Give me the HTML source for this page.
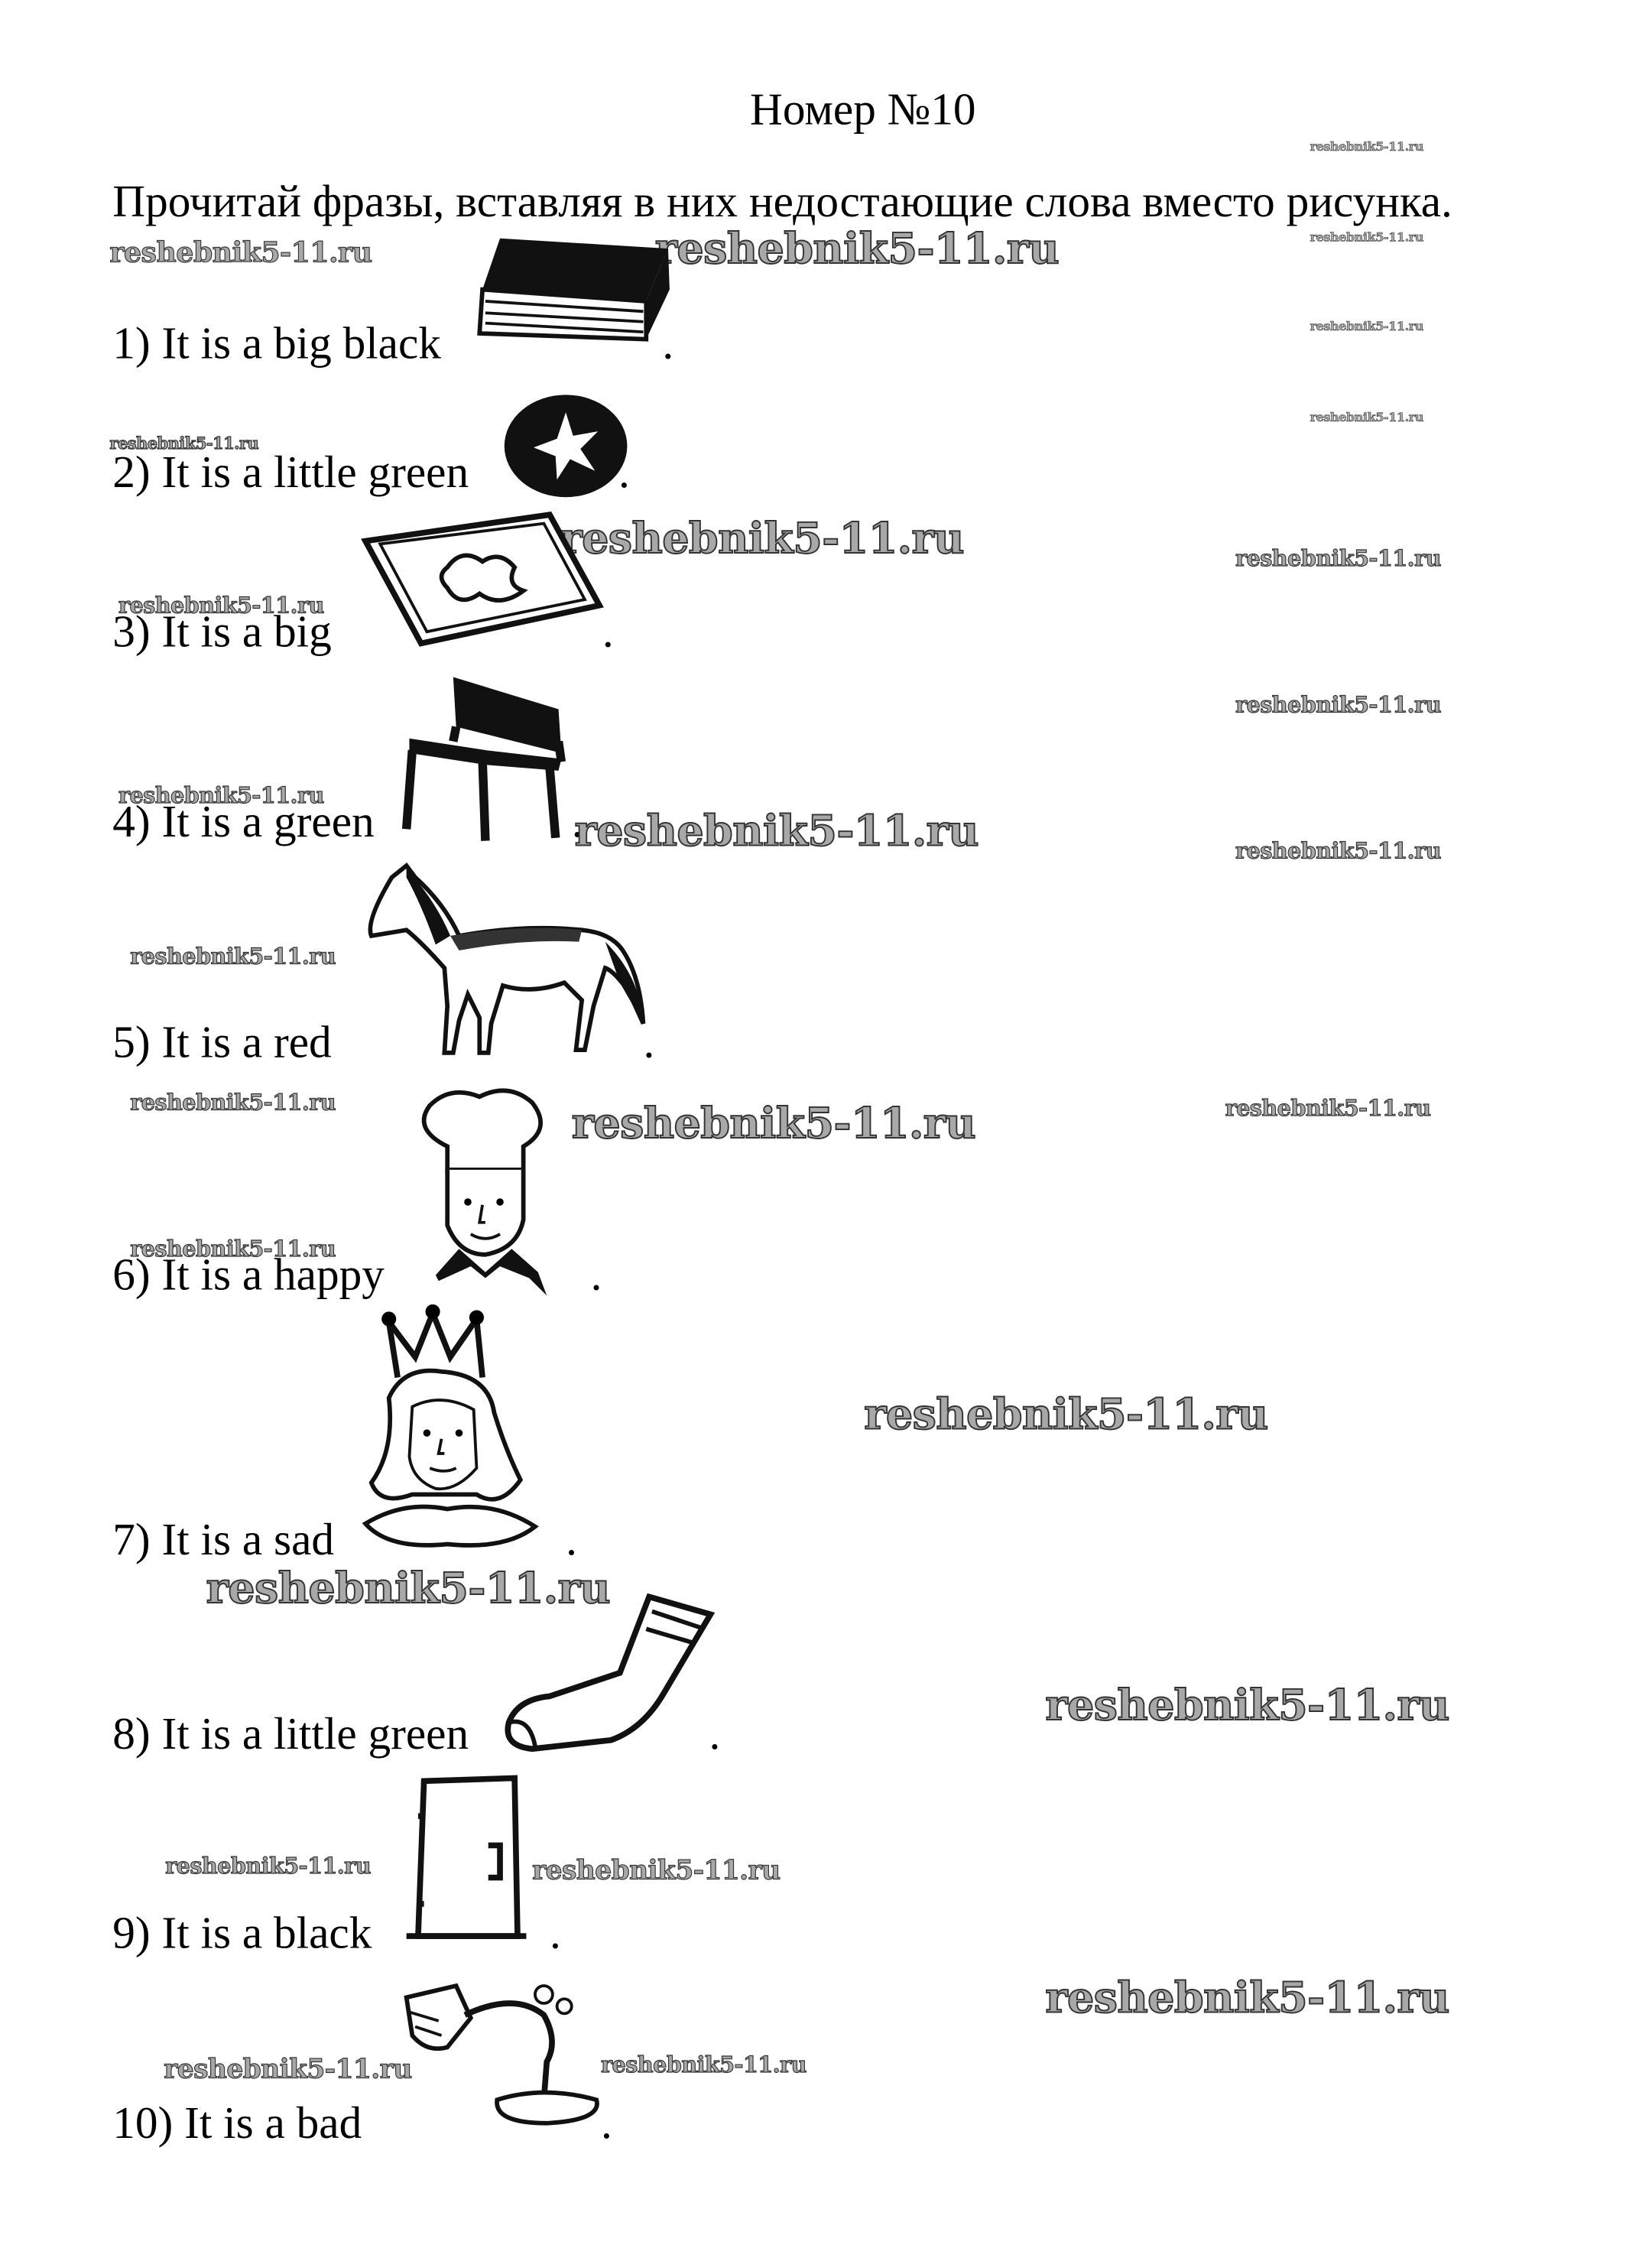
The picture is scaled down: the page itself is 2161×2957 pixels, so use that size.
<!DOCTYPE html>
<html><head><meta charset="utf-8">
<style>
html,body{margin:0;padding:0;background:#fff;}
body{width:2161px;height:2956px;overflow:hidden;position:relative;}
#s{position:absolute;left:0;top:0;width:1130px;height:1546px;transform:scale(1.9124);transform-origin:0 0;}
.t{position:absolute;font-family:"Liberation Serif",serif;color:#000;line-height:1;white-space:nowrap;}
.t.q{font-size:31px;}
.w{position:absolute;font-family:"DejaVu Serif",serif;font-weight:bold;color:#a8a8a8;-webkit-text-stroke:0.6px #333;line-height:1;white-space:nowrap;letter-spacing:-0.3px;}
.L{font-size:29px;-webkit-text-stroke:1px #333;}
.S{font-size:15px;}
.X{font-size:8.5px;-webkit-text-stroke:0.3px #333;}
svg{position:absolute;}
</style></head><body><div id="s">
<div class="t" style="left:513px;top:59px;font-size:31px">Номер №10</div>
<div class="t" style="left:77px;top:122px;font-size:31px">Прочитай фразы, вставляя в них недостающие слова вместо рисунка.</div>

<div class="t q" style="left:77px;top:219px">1) It is a big black</div><div class="t q" style="left:453px;top:219px">.</div>
<div class="t q" style="left:77px;top:307px">2) It is a little green</div><div class="t q" style="left:423px;top:307px">.</div>
<div class="t q" style="left:77px;top:416px">3) It is a big</div><div class="t q" style="left:412px;top:416px">.</div>
<div class="t q" style="left:77px;top:546px">4) It is a green</div><div class="t q" style="left:391px;top:546px">.</div>
<div class="t q" style="left:77px;top:697px">5) It is a red</div><div class="t q" style="left:440px;top:697px">.</div>
<div class="t q" style="left:77px;top:856px">6) It is a happy</div><div class="t q" style="left:404px;top:856px">.</div>
<div class="t q" style="left:77px;top:1037px">7) It is a sad</div><div class="t q" style="left:387px;top:1037px">.</div>
<div class="t q" style="left:77px;top:1170px">8) It is a little green</div><div class="t q" style="left:485px;top:1170px">.</div>
<div class="t q" style="left:77px;top:1306px">9) It is a black</div><div class="t q" style="left:376px;top:1306px">.</div>
<div class="t q" style="left:77px;top:1436px">10) It is a bad</div><div class="t q" style="left:411px;top:1436px">.</div>

<div class="w X" style="left:896px;top:97px">reshebnik5-11.ru</div>
<div class="w X" style="left:896px;top:159px">reshebnik5-11.ru</div>
<div class="w X" style="left:896px;top:220px">reshebnik5-11.ru</div>
<div class="w X" style="left:896px;top:282px">reshebnik5-11.ru</div>
<div class="w" style="left:75px;top:164px;font-size:19px">reshebnik5-11.ru</div>
<div class="w L" style="left:448px;top:156px">reshebnik5-11.ru</div>
<div class="w" style="left:75px;top:298px;font-size:11px">reshebnik5-11.ru</div>
<div class="w L" style="left:383px;top:354px">reshebnik5-11.ru</div>
<div class="w S" style="left:845px;top:375px">reshebnik5-11.ru</div>
<div class="w S" style="left:81px;top:407px">reshebnik5-11.ru</div>
<div class="w S" style="left:845px;top:475px">reshebnik5-11.ru</div>
<div class="w S" style="left:81px;top:537px">reshebnik5-11.ru</div>
<div class="w L" style="left:393px;top:554px">reshebnik5-11.ru</div>
<div class="w S" style="left:845px;top:575px">reshebnik5-11.ru</div>
<div class="w S" style="left:89px;top:647px">reshebnik5-11.ru</div>
<div class="w S" style="left:89px;top:747px">reshebnik5-11.ru</div>
<div class="w L" style="left:391px;top:754px">reshebnik5-11.ru</div>
<div class="w S" style="left:838px;top:751px">reshebnik5-11.ru</div>
<div class="w S" style="left:89px;top:847px">reshebnik5-11.ru</div>
<div class="w L" style="left:591px;top:953px">reshebnik5-11.ru</div>
<div class="w L" style="left:141px;top:1072px">reshebnik5-11.ru</div>
<div class="w L" style="left:715px;top:1152px">reshebnik5-11.ru</div>
<div class="w S" style="left:113px;top:1269px">reshebnik5-11.ru</div>
<div class="w" style="left:364px;top:1271px;font-size:18px">reshebnik5-11.ru</div>
<div class="w L" style="left:715px;top:1352px">reshebnik5-11.ru</div>
<div class="w" style="left:112px;top:1407px;font-size:18px">reshebnik5-11.ru</div>
<div class="w S" style="left:411px;top:1405px">reshebnik5-11.ru</div>

<!-- book -->
<svg style="left:322px;top:158px" width="142" height="80" viewBox="0 0 142 80"><path d="M20 5 L135 12 L120 48 L8 40 Z" fill="#111"/><path d="M8 40 L120 48 L120 74 L6 70 Z" fill="#fff" stroke="#111" stroke-width="3"/><path d="M10 48 L118 55 M10 56 L118 62 M10 63 L118 69" stroke="#111" stroke-width="2"/><path d="M120 48 L135 12 L136 40 L120 74" fill="#111"/></svg>
<!-- star ball -->
<svg style="left:343px;top:268px" width="90" height="74" viewBox="0 0 90 74"><ellipse cx="44" cy="37" rx="42" ry="35" fill="#111"/><path d="M44 14 L49 30 L66 27 L54 39 L64 54 L47 46 L38 60 L37 44 L22 38 L38 32 Z" fill="#fff"/></svg>
<!-- map -->
<svg style="left:246px;top:348px" width="168" height="96" viewBox="0 0 168 96"><path d="M4 22 L130 4 L164 66 L42 92 Z" fill="#fff" stroke="#111" stroke-width="4"/><path d="M14 24 L126 10 L154 62 L46 84 Z" fill="none" stroke="#111" stroke-width="2"/><path d="M60 40 q10 -14 24 -4 q12 -8 22 4 q-6 12 6 16 q-16 12 -30 2 q-14 10 -22 -4 q-8 -8 0 -14z" fill="none" stroke="#111" stroke-width="3"/></svg>
<!-- bench -->
<svg style="left:272px;top:457px" width="126" height="122" viewBox="0 0 126 122"><path d="M38 6 L110 28 L112 58 L40 40 Z" fill="#111"/><path d="M8 48 L60 56 L112 62 L110 70 L60 66 L8 58Z" fill="#111"/><path d="M10 56 L6 110 M58 62 L60 118 M104 68 L108 116 M40 40 L38 50 M110 50 L112 64" stroke="#111" stroke-width="6" fill="none"/></svg>
<!-- horse -->
<svg style="left:248px;top:588px" width="196" height="140" viewBox="0 0 196 140"><path d="M20 12 L30 4 L36 12 Q56 30 66 52 Q110 44 150 48 Q170 50 178 62 Q190 80 192 112 L182 90 Q172 76 166 74 L158 100 L152 130 L146 130 L150 96 L138 84 Q116 92 96 86 L88 112 L86 132 L80 132 L80 108 L72 92 L66 110 L62 132 L56 132 L58 100 L56 74 Q40 56 30 48 L6 52 Q2 42 20 12Z" fill="#fff" stroke="#111" stroke-width="3"/><path d="M30 6 Q50 28 60 52 L50 58 Q40 30 30 12Z" fill="#111"/><path d="M166 56 Q190 80 192 112 L176 84 Z" fill="#111"/><path d="M60 52 Q110 44 150 48 L148 56 Q110 54 66 62Z" fill="#333"/></svg>
<!-- chef -->
<svg style="left:278px;top:742px" width="106" height="146" viewBox="0 0 106 146"><path d="M28 42 Q4 30 16 14 Q30 0 50 8 Q70 -2 86 12 Q100 30 80 42 L80 58 L28 58Z" fill="#fff" stroke="#111" stroke-width="3"/><path d="M28 58 L28 96 Q36 116 54 116 Q76 112 80 92 L80 58" fill="#fff" stroke="#111" stroke-width="3"/><circle cx="42" cy="80" r="2.5"/><circle cx="64" cy="80" r="2.5"/><path d="M52 82 L50 94 L54 94 M44 102 Q54 108 64 102" stroke="#111" stroke-width="2" fill="none"/><path d="M20 130 L36 112 L54 128 L72 112 L90 128 L96 144 L84 132 L64 124 L54 132 L44 124 L22 134 Z" fill="#111"/></svg>
<!-- princess -->
<svg style="left:246px;top:892px" width="124" height="172" viewBox="0 0 124 172"><path d="M26 50 L20 12 L38 36 L50 6 L62 36 L80 10 L84 50" fill="none" stroke="#111" stroke-width="4"/><circle cx="20" cy="10" r="5"/><circle cx="50" cy="5" r="5"/><circle cx="80" cy="9" r="5"/><path d="M20 64 Q30 42 56 46 Q88 48 92 74 Q100 100 110 120 Q96 140 80 130 L36 130 Q14 138 8 122 Q24 100 20 64Z" fill="#fff" stroke="#111" stroke-width="3"/><path d="M36 70 Q56 60 78 72 L80 112 Q66 128 52 126 Q36 120 34 104Z" fill="#fff" stroke="#111" stroke-width="2"/><circle cx="46" cy="88" r="2.5"/><circle cx="68" cy="88" r="2.5"/><path d="M56 92 L54 102 L58 102 M48 112 Q58 116 66 112" stroke="#111" stroke-width="2" fill="none"/><path d="M4 150 Q30 134 60 140 Q92 134 120 152 Q100 168 60 164 Q20 168 4 150Z" fill="#fff" stroke="#111" stroke-width="3"/></svg>
<!-- sock -->
<svg style="left:342px;top:1082px" width="152" height="118" viewBox="0 0 152 118"><path d="M102 10 L144 22 L112 76 Q98 100 76 108 L22 114 Q2 112 6 96 Q12 80 34 78 L82 62 Z" fill="#fff" stroke="#111" stroke-width="4"/><path d="M104 20 L140 32 M100 32 L134 42" stroke="#111" stroke-width="3"/><path d="M6 96 Q20 92 24 112" stroke="#111" stroke-width="3" fill="none"/></svg>
<!-- door -->
<svg style="left:276px;top:1212px" width="84" height="118" viewBox="0 0 84 118"><path d="M14 6 L76 4 L78 112 L10 112 Z" fill="#fff" stroke="#111" stroke-width="4"/><path d="M2 112 L84 112" stroke="#111" stroke-width="4"/><path d="M58 50 L66 50 L66 72 L58 72" stroke="#111" stroke-width="4" fill="none"/><path d="M10 30 L14 30 M10 90 L14 90" stroke="#111" stroke-width="4"/></svg>
<!-- lamp -->
<svg style="left:272px;top:1352px" width="142" height="104" viewBox="0 0 142 104"><path d="M6 14 L40 6 L50 28 L34 48 Q20 52 10 40 Z" fill="#fff" stroke="#111" stroke-width="3"/><path d="M8 24 L28 30 M12 34 L30 40" stroke="#111" stroke-width="2"/><path d="M46 26 Q80 10 100 26 Q110 44 102 58 L100 84" stroke="#111" stroke-width="4" fill="none"/><circle cx="100" cy="12" r="6" fill="#fff" stroke="#111" stroke-width="2"/><circle cx="114" cy="20" r="5" fill="#fff" stroke="#111" stroke-width="2"/><path d="M68 84 Q100 74 136 84 Q140 98 102 100 Q66 100 68 84Z" fill="#fff" stroke="#111" stroke-width="3"/></svg>
</div></body></html>
